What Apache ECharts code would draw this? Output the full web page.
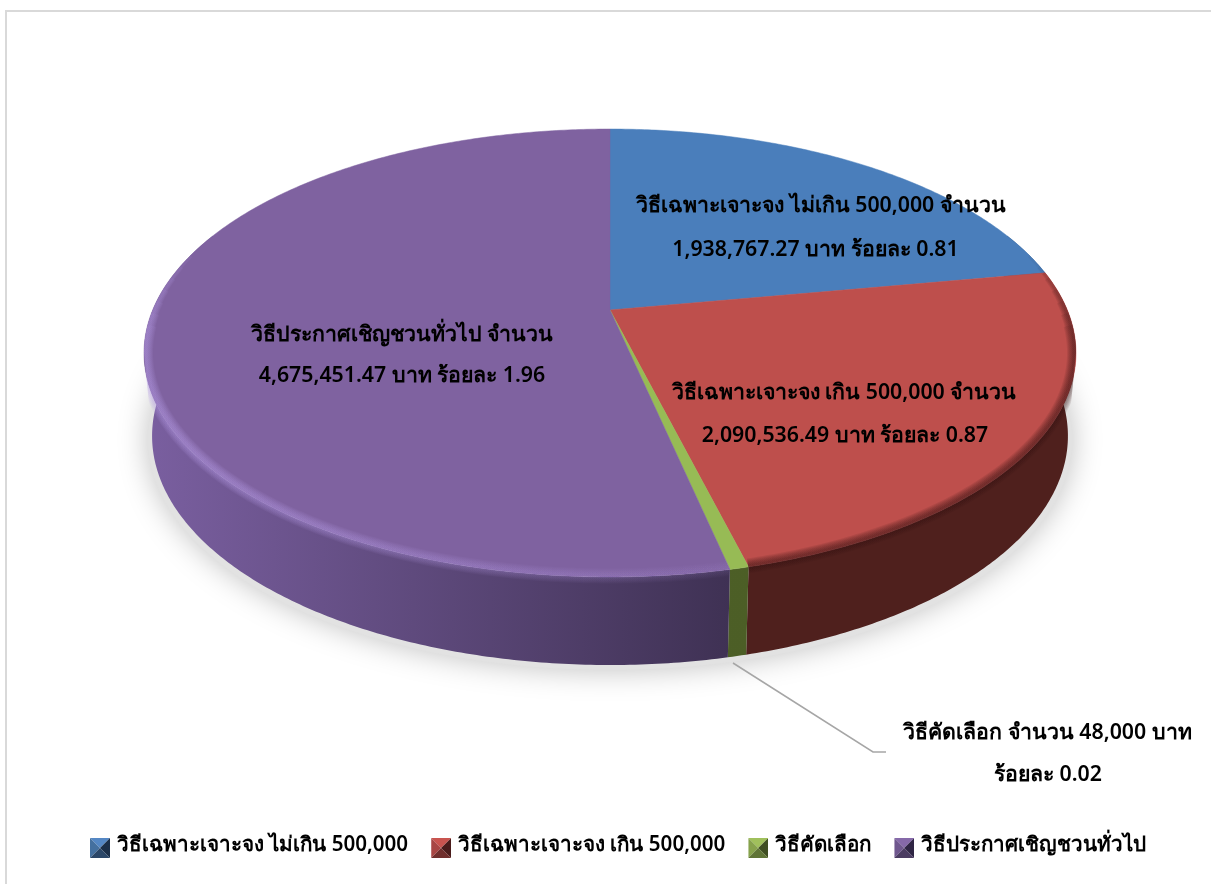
<!DOCTYPE html>
<html>
<head>
<meta charset="utf-8">
<title>วิธีการจัดซื้อจัดจ้าง</title>
<script src="https://cdn.jsdelivr.net/npm/echarts@6/dist/echarts.min.js"></script>
<style>
  html, body { margin: 0; padding: 0; background: #fff; }
  #chart { width: 1211px; height: 884px; }
</style>
</head>
<body>
<div id="chart"></div>
<script>
// data
var categories = ['วิธีเฉพาะเจาะจง ไม่เกิน 500,000', 'วิธีเฉพาะเจาะจง เกิน 500,000', 'วิธีคัดเลือก', 'วิธีประกาศเชิญชวนทั่วไป'];
var amounts = [1938767.27, 2090536.49, 48000, 4675451.47];
var percents = ['0.81', '0.87', '0.02', '1.96'];

// colours
var faceColors = ['#4a7ebb', '#be4f4c', '#97bb55', '#7f62a0'];
var iconColors = [
  ['#5487c4', '#44709f', '#1b2f49', '#2b4768'],
  ['#c9544f', '#a84644', '#4a1c1b', '#702f2d'],
  ['#a0c05c', '#86a24c', '#3f4e22', '#5f7436'],
  ['#8669a9', '#6f578e', '#2f2544', '#4b3c62']
];
var sideStops = [
  ['#2b4a70', '#2b4a70'],
  ['#4f201d', '#4f201d'],
  ['#506329', '#4c5e26'],
  ['#7a5fa0', '#3c2f50']
];
// bevel tint at the left and right end of each slice's front rim
var rimStops = [
  ['rgba(30,50,80,0.06)', 'rgba(30,50,80,0.06)'],
  ['rgba(50,15,15,0.1)', 'rgba(50,15,15,0.1)'],
  ['rgba(60,80,30,0)', 'rgba(60,80,30,0)'],
  ['rgba(178,152,226,0.1)', 'rgba(178,152,226,0.015)']
];

// layout of the tilted disc
var TOP = { cy: 310, a: 457.3, b: 215.7 };
var BOTTOM = { cy: 392, a: 449.4, b: 220.6 };
var CX = 610, K = 0.192;
var labelAt = [
  [[821, 206], [815.5, 250]],
  [[844, 393], [845, 436]],
  [[1047.5, 733], [1048, 775]],
  [[402, 335], [402, 376]]
];
var leader = [[733, 663], [873, 752], [886, 752]];
var bevelWidths = [15, 13, 11, 9, 7, 5, 3];
var fontFamily = '"Noto Sans", Tahoma, sans-serif';
var total = amounts.reduce(function (s, v) { return s + v; }, 0);
var DEG = Math.PI / 180;

function project(disc, theta, r) {
  var u = Math.sin(theta) * r, v = -Math.cos(theta) * r, w = 1 - K * v;
  return [CX + disc.a * u / w, disc.cy + disc.b * v / w];
}

function arc(disc, from, to, r) {
  var pts = [], n = Math.max(2, Math.ceil((to - from) / 0.01));
  for (var i = 0; i <= n; i++) pts.push(project(disc, from + (to - from) * i / n, r));
  return pts;
}

// silhouette of the whole disc, keeps the bevel strokes from leaking onto the page
function outline() {
  return arc(TOP, 259 * DEG, 461 * DEG, 1).concat(arc(BOTTOM, 101 * DEG, 259 * DEG, 1));
}

function money(v) {
  return v.toLocaleString('en-US', { minimumFractionDigits: v % 1 ? 2 : 0, maximumFractionDigits: 2 });
}

function labelLines(i) {
  if (i === 2) return [categories[i] + ' จำนวน ' + money(amounts[i]) + ' บาท', 'ร้อยละ ' + percents[i]];
  return [categories[i] + ' จำนวน', money(amounts[i]) + ' บาท ร้อยละ ' + percents[i]];
}

function textEl(pos, s) {
  return {
    type: 'text', z2: 20,
    style: { x: pos[0], y: pos[1], text: s, align: 'center', verticalAlign: 'middle', fill: '#000', font: '600 21.3px ' + fontFamily }
  };
}

function gradientX(stops, x0, x1) {
  return new echarts.graphic.LinearGradient(x0, 0, x1, 0, [
    { offset: 0, color: stops[0] }, { offset: 1, color: stops[1] }
  ], true);
}

function sliceRenderer(idx) {
  return function (params, api) {
    var before = amounts.slice(0, idx).reduce(function (s, v) { return s + v; }, 0);
    var start = before / total * Math.PI * 2;
    var end = start + api.value(0) / total * Math.PI * 2;
    var kids = [];

    // outer wall, only the part that faces the viewer
    var lo = Math.max(start, Math.PI * 0.38), hi = Math.min(end, Math.PI * 1.62);
    if (hi > lo) {
      var wall = arc(TOP, lo, hi, 1).concat(arc(BOTTOM, lo, hi, 1).reverse());
      kids.push({
        type: 'polygon', z2: 2, shape: { points: wall },
        style: { fill: gradientX(sideStops[idx], 144, 760) }
      });
    }

    // top face
    kids.push({
      type: 'polygon', z2: 5,
      shape: { points: [project(TOP, 0, 0)].concat(arc(TOP, start, end, 1)) },
      style: { fill: faceColors[idx], stroke: faceColors[idx], lineWidth: 0.5 }
    });

    // soft bevel on the front rim: stacked faint strokes, wider ones stop earlier
    bevelWidths.forEach(function (w) {
      var a = Math.max(start, (70 + w * 1.6) * DEG), z = Math.min(end, (290 - w * 1.6) * DEG);
      if (z <= a) return;
      kids.push({
        type: 'polyline', z2: 6,
        clipPath: { type: 'polygon', shape: { points: outline() } },
        shape: { points: arc(TOP, a, z, 0.997) },
        style: { fill: null, stroke: gradientX(rimStops[idx], 144, 760), lineWidth: w }
      });
    });

    labelLines(idx).forEach(function (s, n) {
      kids.push(textEl(labelAt[idx][n], s));
    });

    if (idx === 2) {
      kids.push({
        type: 'polyline', z2: 1, shape: { points: leader },
        style: { fill: null, stroke: '#a6a6a6', lineWidth: 1.5 }
      });
    }
    return { type: 'group', children: kids };
  };
}

function iconUrl(c) {
  // the square sits low in a taller box so the legend text rides above its centre
  var svg = '<svg xmlns="http://www.w3.org/2000/svg" width="20" height="26" viewBox="0 -6 20 26">' +
    '<polygon points="0,0 20,0 10,10" fill="' + c[0] + '"/>' +
    '<polygon points="0,0 10,10 0,20" fill="' + c[1] + '"/>' +
    '<polygon points="20,0 20,20 10,10" fill="' + c[2] + '"/>' +
    '<polygon points="0,20 20,20 10,10" fill="' + c[3] + '"/></svg>';
  return 'image://data:image/svg+xml;charset=utf-8,' + encodeURIComponent(svg);
}

var series = [{
  // blurred shadow under the disc
  type: 'custom', name: 'shadow', coordinateSystem: 'none', silent: true, animation: false, data: [0],
  renderItem: function () {
    return {
      type: 'ellipse', z2: 0,
      shape: { cx: CX, cy: 440, rx: 462, ry: 230 },
      style: { fill: '#e2e2e2', shadowBlur: 30, shadowColor: 'rgba(0,0,0,0.25)' }
    };
  }
}];

categories.forEach(function (name, i) {
  series.push({
    type: 'custom', name: name, coordinateSystem: 'none', animation: false,
    itemStyle: { color: faceColors[i] },
    data: [amounts[i]],
    renderItem: sliceRenderer(i)
  });
});

var myChart = echarts.init(document.getElementById('chart'));
myChart.setOption({
  backgroundColor: '#fff',
  animation: false,
  legend: {
    left: 90, top: 832,
    itemWidth: 20, itemHeight: 26, itemGap: 23,
    padding: 0,
    textStyle: { fontSize: 20.6, fontWeight: 600, color: '#000', fontFamily: fontFamily, padding: [0, 0, 0, 2] },
    data: categories.map(function (name, i) { return { name: name, icon: iconUrl(iconColors[i]) }; })
  },
  graphic: [{
    type: 'polyline', silent: true,
    shape: { points: [[6, 884], [6, 11], [1211, 11]] },
    style: { fill: null, stroke: '#d9d9d9', lineWidth: 2 }
  }],
  series: series
});
</script>
</body>
</html>
